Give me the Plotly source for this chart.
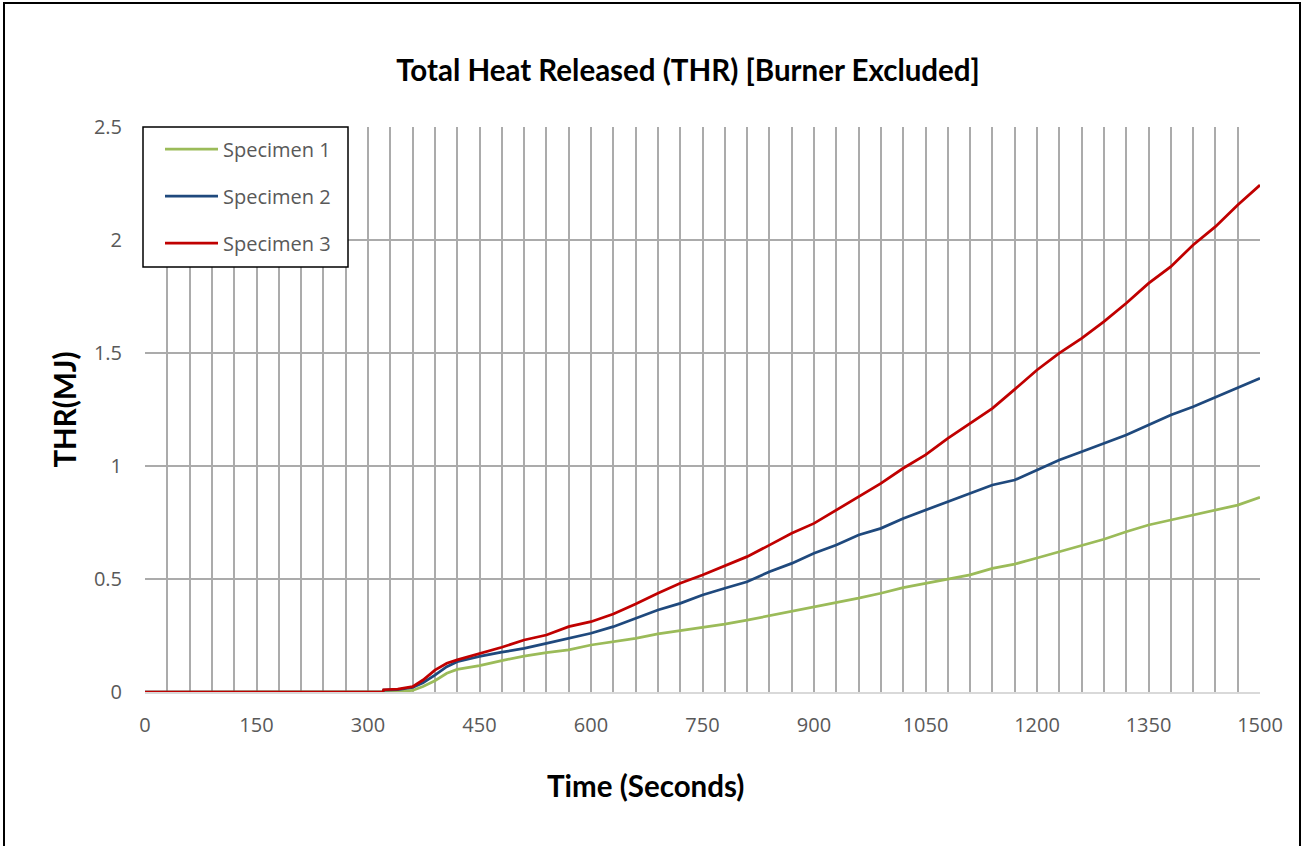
import plotly.graph_objects as go

# ---------------- data ----------------
time_s = [0, 300, 320, 321, 340, 360, 374, 390, 406, 420,
          450, 480, 510, 540, 570, 600, 630, 660, 690, 720, 750, 780,
          810, 840, 870, 900, 930, 960, 990, 1020, 1050, 1080, 1110, 1140,
          1170, 1200, 1230, 1260, 1290, 1320, 1350, 1380, 1410, 1440, 1470, 1500]

specimen_1 = [0, 0, 0, 0, 0.002, 0.007, 0.024, 0.050, 0.083, 0.100,
              0.117, 0.139, 0.159, 0.174, 0.186, 0.208, 0.223, 0.237, 0.257, 0.271, 0.286, 0.300,
              0.318, 0.337, 0.355, 0.375, 0.395, 0.415, 0.437, 0.462, 0.481, 0.499, 0.518, 0.547,
              0.566, 0.593, 0.620, 0.648, 0.676, 0.709, 0.739, 0.761, 0.783, 0.808, 0.827, 0.861]

specimen_2 = [0, 0, 0, 0.008, 0.010, 0.020, 0.041, 0.075, 0.112, 0.134,
              0.158, 0.176, 0.193, 0.215, 0.237, 0.260, 0.289, 0.326, 0.363, 0.392, 0.429, 0.459,
              0.488, 0.532, 0.569, 0.614, 0.650, 0.695, 0.724, 0.768, 0.805, 0.842, 0.882, 0.916,
              0.938, 0.982, 1.027, 1.063, 1.100, 1.137, 1.181, 1.226, 1.262, 1.304, 1.344, 1.388]

specimen_3 = [0, 0, 0, 0.010, 0.013, 0.024, 0.053, 0.097, 0.127, 0.142,
              0.170, 0.198, 0.230, 0.252, 0.289, 0.311, 0.345, 0.389, 0.437, 0.481, 0.518, 0.559,
              0.599, 0.650, 0.702, 0.746, 0.805, 0.864, 0.923, 0.990, 1.049, 1.122, 1.189, 1.255,
              1.339, 1.425, 1.499, 1.565, 1.639, 1.720, 1.808, 1.882, 1.978, 2.059, 2.155, 2.243]

series_names = ["Specimen 1", "Specimen 2", "Specimen 3"]
series_colors = ["#9BBB59", "#1F497D", "#C00000"]
x_ticks = [0, 150, 300, 450, 600, 750, 900, 1050, 1200, 1350, 1500]
y_ticks = [0, 0.5, 1, 1.5, 2, 2.5]
y_tick_text = ["0", "0.5", "1", "1.5", "2", "2.5"]

# ---------------- figure ----------------
W, H = 1306, 846
L, R, T, B = 145, 46, 127, 154
PW, PH = W - L - R, H - T - B

def px_x(px):
    return (px - L) / PW

def px_y(py):
    return (H - B - py) / PH

fig = go.Figure()
for name, vals, col in zip(series_names, [specimen_1, specimen_2, specimen_3], series_colors):
    fig.add_trace(go.Scatter(x=time_s, y=vals, mode="lines", name=name,
                             line=dict(color=col, width=2.75), showlegend=False))

tick_font = dict(family="'Open Sans', sans-serif", size=20, color="#595959")
bold_font = dict(family="Lato, 'Open Sans', sans-serif", size=29.5, color="#000000")

fig.update_layout(
    width=W, height=H,
    margin=dict(l=L, r=R, t=T, b=B),
    paper_bgcolor="white", plot_bgcolor="white",
    title=dict(text="<b>Total Heat Released (THR) [Burner Excluded]</b>",
               x=688 / W, xref="container", xanchor="center",
               y=(H - 71) / H, yref="container", yanchor="middle",
               font=bold_font),
    xaxis=dict(range=[0, 1500], tickvals=x_ticks, ticktext=[str(v) for v in x_ticks],
               showgrid=True, gridcolor="#ABABAB", gridwidth=1.6,
               minor=dict(dtick=30, tick0=0, showgrid=True, gridcolor="#ABABAB", gridwidth=1.6),
               showline=True, linecolor="#D9D9D9", linewidth=2, zeroline=False,
               ticks="", ticklabelstandoff=14, tickfont=tick_font),
    yaxis=dict(range=[0, 2.5], tickvals=y_ticks, ticktext=y_tick_text,
               showgrid=True, gridcolor="#ABABAB", gridwidth=1.6,
               showline=False, zeroline=False,
               ticks="", ticklabelstandoff=22, tickfont=tick_font,
               title=dict(text="<b>THR(MJ)</b>", font=bold_font, standoff=8)),
)

shapes = []
# outer chart border
shapes.append(dict(type="rect", xref="paper", yref="paper",
                   x0=px_x(4), x1=px_x(1300), y0=px_y(852), y1=px_y(3),
                   line=dict(color="black", width=2), fillcolor="rgba(0,0,0,0)", layer="above"))
# legend box
shapes.append(dict(type="rect", xref="paper", yref="paper",
                   x0=px_x(143), x1=px_x(348), y0=px_y(267), y1=px_y(127),
                   line=dict(color="black", width=1.5), fillcolor="white", layer="above"))
annotations = []
for i, (name, col) in enumerate(zip(series_names, series_colors)):
    yy = 149 + i * 47
    shapes.append(dict(type="line", xref="paper", yref="paper",
                       x0=px_x(165), x1=px_x(218), y0=px_y(yy), y1=px_y(yy),
                       line=dict(color=col, width=2.75), layer="above"))
    annotations.append(dict(text=name, xref="paper", yref="paper",
                            x=px_x(221), y=px_y(yy), xanchor="left", yanchor="middle",
                            showarrow=False, font=tick_font))
# x-axis title (offset left of plot centre, as in the reference)
annotations.append(dict(text="<b>Time (Seconds)</b>", xref="paper", yref="paper",
                        x=px_x(645), y=px_y(785), xanchor="center", yanchor="middle",
                        showarrow=False, font=bold_font))
fig.update_layout(shapes=shapes, annotations=annotations)

fig.write_html("out.html", config={"displayModeBar": False},
               post_script="document.body.style.margin='0px';")
